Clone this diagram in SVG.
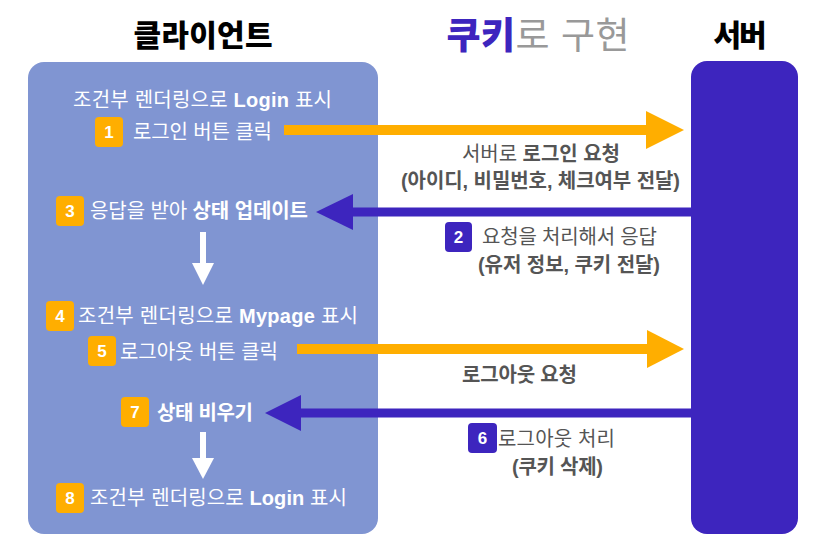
<svg xmlns="http://www.w3.org/2000/svg" width="835" height="541" viewBox="0 0 835 541">
<style>
text{font-family:"Liberation Sans","Noto Sans CJK KR",sans-serif;}
.title{font-size:30px;font-weight:900;fill:#000;text-anchor:middle;}
.w{font-size:20px;fill:#fff;}
.g{font-size:20px;fill:#555;}
.b{font-weight:700;}
.badge-o{fill:#FFAE00;}
.badge-p{fill:#3D25BE;}
.bn{font-size:17px;font-weight:700;fill:#fff;text-anchor:middle;}
.or{stroke:#FFAE00;stroke-width:10;}
.pu{stroke:#3D25BE;stroke-width:9;}
</style>
<rect width="835" height="541" fill="#fff"/>
<g id="titles">
<text class="title" x="203" y="46" textLength="139">클라이언트</text>
<text x="538" y="49" style="font-size:37px" text-anchor="middle" textLength="183"><tspan fill="#3D25BE" font-weight="900">쿠키</tspan><tspan fill="#999">로 구현</tspan></text>
<text class="title" x="740" y="46" textLength="53">서버</text>
</g>
<g id="client">
<rect x="28" y="62" width="350" height="472" rx="16" fill="#8095D2"/>
</g>
<g id="server">
<rect x="691" y="61" width="107" height="473" rx="16" fill="#3D25BE"/>
</g>
<g id="connectors">
<line class="or" x1="284" y1="130" x2="650" y2="130"/>
<polygon points="646,111 684,130 646,149" fill="#FFAE00"/>
<line class="pu" x1="691" y1="212" x2="350" y2="212"/>
<polygon points="353,194 316,212 353,230" fill="#3D25BE"/>
<line class="or" x1="297" y1="349" x2="650" y2="349"/>
<polygon points="647,330 684,349 647,368" fill="#FFAE00"/>
<line class="pu" x1="691" y1="413" x2="298" y2="413"/>
<polygon points="301,395 265,413 301,431" fill="#3D25BE"/>
<rect x="200" y="232" width="6" height="33" fill="#fff"/>
<polygon points="192,263 214,263 203,285" fill="#fff"/>
<rect x="200" y="432" width="6" height="28" fill="#fff"/>
<polygon points="192,458 214,458 203,479" fill="#fff"/>
</g>
<g id="step-login-display">
<text class="w" x="73" y="107" textLength="259">조건부 렌더링으로 <tspan class="b">Login</tspan> 표시</text>
</g>
<g id="step1">
<rect class="badge-o" x="95" y="117" width="28" height="30" rx="4"/>
<text class="bn" x="109" y="138">1</text>
<text class="w" x="133" y="139" textLength="139">로그인 버튼 클릭</text>
</g>
<g id="step3">
<rect class="badge-o" x="56" y="196" width="28" height="30" rx="4"/>
<text class="bn" x="70" y="217">3</text>
<text class="w" x="90" y="218" textLength="218">응답을 받아 <tspan class="b">상태 업데이트</tspan></text>
</g>
<g id="step4">
<rect class="badge-o" x="46" y="301" width="28" height="30" rx="4"/>
<text class="bn" x="60" y="322">4</text>
<text class="w" x="78" y="323" textLength="280">조건부 렌더링으로 <tspan class="b">Mypage</tspan> 표시</text>
</g>
<g id="step5">
<rect class="badge-o" x="88" y="336" width="28" height="30" rx="4"/>
<text class="bn" x="102" y="357">5</text>
<text class="w" x="120" y="359" textLength="158">로그아웃 버튼 클릭</text>
</g>
<g id="step7">
<rect class="badge-o" x="121" y="397" width="28" height="30" rx="4"/>
<text class="bn" x="135" y="418">7</text>
<text class="w b" x="157" y="420" textLength="96">상태 비우기</text>
</g>
<g id="step8">
<rect class="badge-o" x="56" y="483" width="28" height="30" rx="4"/>
<text class="bn" x="70" y="504">8</text>
<text class="w" x="90" y="505" textLength="257">조건부 렌더링으로 <tspan class="b">Login</tspan> 표시</text>
</g>
<g id="label-login-request">
<text class="g" x="462" y="161" textLength="158">서버로 <tspan class="b">로그인 요청</tspan></text>
<text class="g b" x="401" y="188" textLength="279">(아이디, 비밀번호, 체크여부 전달)</text>
</g>
<g id="step2">
<rect class="badge-p" x="445" y="222" width="27" height="30" rx="4"/>
<text class="bn" x="458.5" y="243">2</text>
<text class="g" x="482" y="244" textLength="175">요청을 처리해서 응답</text>
<text class="g b" x="478" y="272" textLength="182">(유저 정보, 쿠키 전달)</text>
</g>
<g id="label-logout-request">
<text class="g b" x="462" y="382" textLength="115">로그아웃 요청</text>
</g>
<g id="step6">
<rect class="badge-p" x="468" y="423" width="29" height="30" rx="4"/>
<text class="bn" x="482.5" y="444">6</text>
<text class="g" x="498" y="446" textLength="117">로그아웃 처리</text>
<text class="g b" x="512" y="474" textLength="91">(쿠키 삭제)</text>
</g>
</svg>
